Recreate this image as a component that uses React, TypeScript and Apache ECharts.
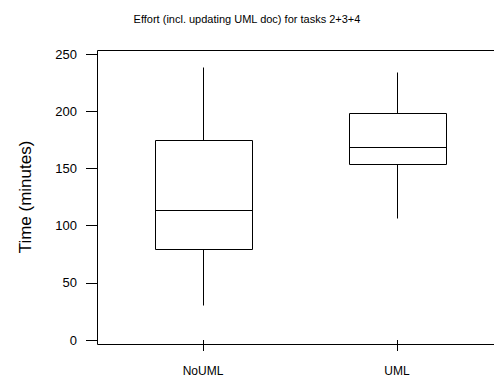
import React, { useEffect, useRef } from "react";
import * as echarts from "echarts";

const categories = ["NoUML", "UML"];
// [min, Q1, median, Q3, max]
const noUml = [31, 79.5, 113.5, 175, 239];
const uml = [107, 153.5, 169, 198, 234];
const boxStats = [noUml, uml];
const yTicks = [0, 50, 100, 150, 200, 250];

const FONT = "Liberation Sans, Arial, Helvetica, sans-serif";

export default function App() {
  const ref = useRef<HTMLDivElement>(null);
  useEffect(() => {
    if (!ref.current) return;
    const chart = echarts.init(ref.current, null, { renderer: "svg" });
    const data = boxStats.map((s, i) => [i, ...s]);
    chart.setOption({
      animation: false,
      backgroundColor: "#fff",
      title: {
        text: "Effort (incl. updating UML doc) for tasks 2+3+4",
        left: "center",
        top: 8,
        textStyle: { fontFamily: FONT, fontSize: 11, fontWeight: "normal", color: "#000" },
      },
      grid: { left: 106, right: -2, top: 54, bottom: 41 },
      xAxis: {
        type: "category",
        data: categories,
        offset: 4,
        axisLine: { show: false },
        axisTick: { show: true, alignWithLabel: true, length: 11, lineStyle: { color: "#000" } },
        axisLabel: { margin: 21, fontFamily: FONT, fontSize: 12, color: "#000" },
        splitLine: { show: false },
      },
      yAxis: {
        type: "value",
        min: yTicks[0],
        max: yTicks[yTicks.length - 1],
        interval: 50,
        offset: 8,
        name: "Time (minutes)",
        nameLocation: "middle",
        nameGap: 64,
        nameTextStyle: { fontFamily: FONT, fontSize: 17, color: "#000" },
        axisLine: { show: false },
        axisTick: { show: true, length: 12, lineStyle: { color: "#000" } },
        axisLabel: { margin: 21, fontFamily: FONT, fontSize: 13, color: "#000" },
        splitLine: { show: false },
      },
      graphic: [
        {
          type: "rect",
          shape: { x: 97.5, y: 50.5, width: 420, height: 294 },
          style: { fill: "none", stroke: "#000", lineWidth: 1 },
          silent: true,
        },
      ],
      series: [
        {
          type: "custom",
          data,
          encode: { x: 0, y: [1, 2, 3, 4, 5] },
          renderItem: (params: any, api: any) => {
            const xi = api.value(0);
            const vals = [1, 2, 3, 4, 5].map((d) => api.value(d));
            const pts = vals.map((v) => api.coord([xi, v]));
            const cx = Math.round(pts[0][0]) + 0.5;
            const half = api.size([1, 0])[0] * 0.25;
            const x0 = Math.round(cx - half) + 0.5;
            const x1 = Math.round(cx + half) + 0.5;
            const y = pts.map((p: number[]) => Math.round(p[1]) + 0.5);
            const ls = { stroke: "#000", lineWidth: 1, fill: "none" };
            return {
              type: "group",
              children: [
                { type: "line", shape: { x1: cx, y1: y[0], x2: cx, y2: y[1] }, style: ls },
                { type: "line", shape: { x1: cx, y1: y[3], x2: cx, y2: y[4] }, style: ls },
                {
                  type: "rect",
                  shape: { x: x0, y: y[3], width: x1 - x0, height: y[1] - y[3] },
                  style: { stroke: "#000", lineWidth: 1, fill: "#fff" },
                },
                { type: "line", shape: { x1: x0, y1: y[2], x2: x1, y2: y[2] }, style: ls },
              ],
            };
          },
        },
      ],
    });
    return () => chart.dispose();
  }, []);
  return (
    <div
      ref={ref}
      style={{ width: 494, height: 381, position: "absolute", left: 0, top: 0 }}
    />
  );
}
